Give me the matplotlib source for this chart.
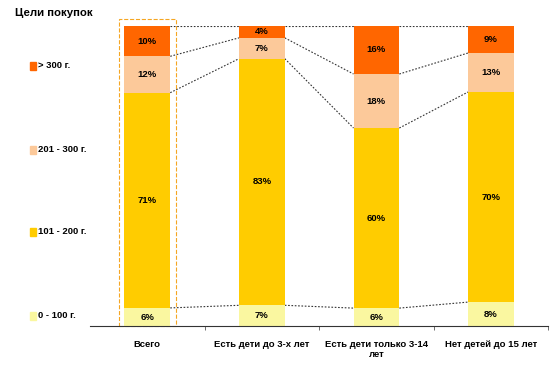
import numpy as np
import matplotlib.pyplot as plt
from matplotlib.patches import Rectangle

plt.rcParams['font.family'] = ['Liberation Sans', 'DejaVu Sans']

# данные
categories = ['Всего', 'Есть дети до 3-х лет', 'Есть дети только 3-14\nлет', 'Нет детей до 15 лет']
series = ['0 - 100 г.', '101 - 200 г.', '201 - 300 г.', '> 300 г.']
v0_100 = [6, 7, 6, 8]
v101_200 = [71, 83, 60, 70]
v201_300 = [12, 7, 18, 13]
v300 = [10, 4, 16, 9]
colors = ['#FAF7A0', '#FFCC00', '#FCC99A', '#FF6600']

raw = [v0_100, v101_200, v201_300, v300]
vals = np.array(raw, dtype=float)
vals = vals / vals.sum(axis=0) * 100  # нормировка до 100%
x = np.arange(len(categories))
w = 0.4

fig = plt.figure(figsize=(5.56, 3.66), dpi=100)
ax = fig.add_axes([0.162, 0.109, 0.824, 0.82])

bottom = np.zeros(len(categories))
for i in range(4):
    ax.bar(x, vals[i], w, bottom=bottom, color=colors[i], zorder=2)
    for j in range(len(categories)):
        ax.text(x[j], bottom[j] + vals[i][j] / 2, f'{raw[i][j]}%',
                ha='center', va='center', fontsize=6.8, fontweight='bold', zorder=3)
    bottom = bottom + vals[i]

# пунктирные линии между столбцами
levels = np.cumsum(vals, axis=0)
for j in range(len(categories) - 1):
    for k in range(4):
        ax.plot([x[j] + w / 2, x[j + 1] - w / 2], [levels[k][j], levels[k][j + 1]],
                ls=(0, (1.5, 1.5)), color='#333333', lw=0.8, zorder=1)

# рамка вокруг "Всего"
ax.add_patch(Rectangle((x[0] - w / 2 - 0.05, 0), w + 0.1, 102.3, fill=False,
                       ls='--', ec='#F5A623', lw=0.8, clip_on=False, zorder=1))

ax.set_xlim(-0.5, 3.5)
ax.set_ylim(0, 100)
ax.set_yticks([])
ax.set_xticks(x)
ax.set_xticklabels(categories, fontsize=6.8, fontweight='bold')
ax.tick_params(axis='x', length=0, pad=10)
ax.set_xticks([0.5, 1.5, 2.5, 3.5], minor=True)
ax.tick_params(axis='x', which='minor', length=3, color='#555555')
for s in ['top', 'right', 'left']:
    ax.spines[s].set_visible(False)
ax.spines['bottom'].set_color('#333333')
ax.spines['bottom'].set_linewidth(0.8)

# легенда слева
fig.text(0.027, 0.965, 'Цели покупок', fontsize=8.2, fontweight='bold', va='center')
leg_y = [316, 232, 150, 66]
for i in range(4):
    yf = 1 - leg_y[i] / 366
    fig.patches.append(Rectangle((30 / 556, yf - 0.012), 6 / 556, 0.024, color=colors[i],
                                 transform=fig.transFigure, figure=fig))
    fig.text(38 / 556, yf, series[i], fontsize=6.8, fontweight='bold', va='center')

plt.savefig('out.png', dpi=100)
